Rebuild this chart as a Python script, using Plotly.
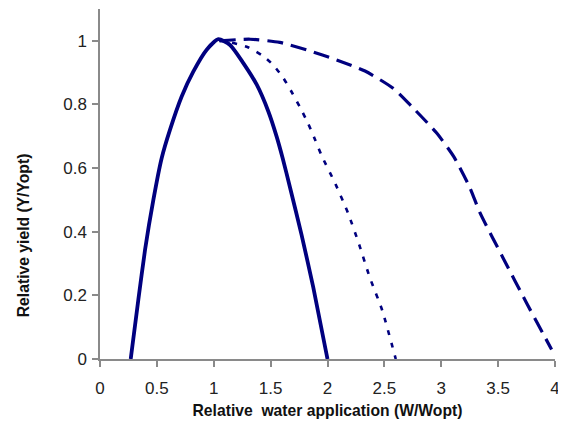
import plotly.graph_objects as go

# Solid curve
solid_x = [0.27, 0.337, 0.396, 0.469, 0.542, 0.615, 0.718, 0.82, 0.938, 1.04, 1.143, 1.26, 1.378, 1.48, 1.553, 1.606, 1.67, 1.772, 1.875, 2.0]
solid_y = [0.0, 0.186, 0.343, 0.5, 0.631, 0.72, 0.825, 0.903, 0.972, 1.005, 0.987, 0.93, 0.862, 0.778, 0.699, 0.631, 0.54, 0.39, 0.225, 0.0]

# Dotted curve
dot_x = [1.05, 1.15, 1.30, 1.43, 1.52, 1.61, 1.69, 1.76, 1.83, 1.89, 1.95, 2.07, 2.18, 2.28, 2.37, 2.48, 2.6]
dot_y = [1.0, 0.995, 0.98, 0.953, 0.925, 0.884, 0.836, 0.79, 0.74, 0.69, 0.638, 0.55, 0.459, 0.358, 0.258, 0.154, 0.0]

# Dashed curve
dash_x = [1.05, 1.32, 1.58, 1.83, 2.08, 2.33, 2.58, 2.75, 2.96, 3.11, 3.25, 3.34, 3.54, 3.75, 3.97]
dash_y = [1.0, 1.005, 0.995, 0.97, 0.94, 0.905, 0.85, 0.79, 0.71, 0.636, 0.54, 0.46, 0.32, 0.176, 0.03]

x_ticks = [0, 0.5, 1, 1.5, 2, 2.5, 3, 3.5, 4]
x_labels = ["0", "0.5", "1", "1.5", "2", "2.5", "3", "3.5", "4"]
y_ticks = [0, 0.2, 0.4, 0.6, 0.8, 1]
y_labels = ["0", "0.2", "0.4", "0.6", "0.8", "1"]

x_title = "Relative  water application (W/Wopt)"
y_title = "Relative yield (Y/Yopt)"

color = "#00007f"
font_family = "Liberation Sans, Arial, sans-serif"

fig = go.Figure()
fig.add_trace(go.Scatter(x=solid_x, y=solid_y, mode="lines",
                         line=dict(color=color, width=3.8, shape="spline", smoothing=0.6)))
fig.add_trace(go.Scatter(x=dot_x, y=dot_y, mode="lines",
                         line=dict(color=color, width=2.6, dash="5px,8px", shape="spline", smoothing=0.6)))
fig.add_trace(go.Scatter(x=dash_x, y=dash_y, mode="lines",
                         line=dict(color=color, width=3.2, dash="16px,8px", shape="spline", smoothing=0.6)))

axis_common = dict(showline=True, linecolor="#8a8a8a", linewidth=1.5,
                   ticks="outside", ticklen=6, tickcolor="#8a8a8a", tickwidth=1.5,
                   showgrid=False, zeroline=False,
                   tickfont=dict(family=font_family, size=17, color="#222222"))

fig.update_layout(
    width=558, height=415,
    margin=dict(l=92, r=11, t=1, b=64),
    paper_bgcolor="white", plot_bgcolor="white",
    showlegend=False,
    xaxis=dict(range=[0, 4], tickvals=x_ticks, ticktext=x_labels, ticklabelstandoff=7,
               title=dict(text="<b>" + x_title + "</b>", standoff=8,
                          font=dict(family=font_family, size=15.7, color="#111111")),
               **axis_common),
    yaxis=dict(range=[0, 1.1], tickvals=y_ticks, ticktext=y_labels, ticklabelstandoff=2,
               **axis_common),
    annotations=[dict(text="<b>" + y_title + "</b>", textangle=-90,
                      xref="paper", yref="paper", x=-0.169, y=0.354,
                      xanchor="center", yanchor="middle", showarrow=False,
                      font=dict(family=font_family, size=15.7, color="#111111"))],
)

fig.write_html("out.html")
